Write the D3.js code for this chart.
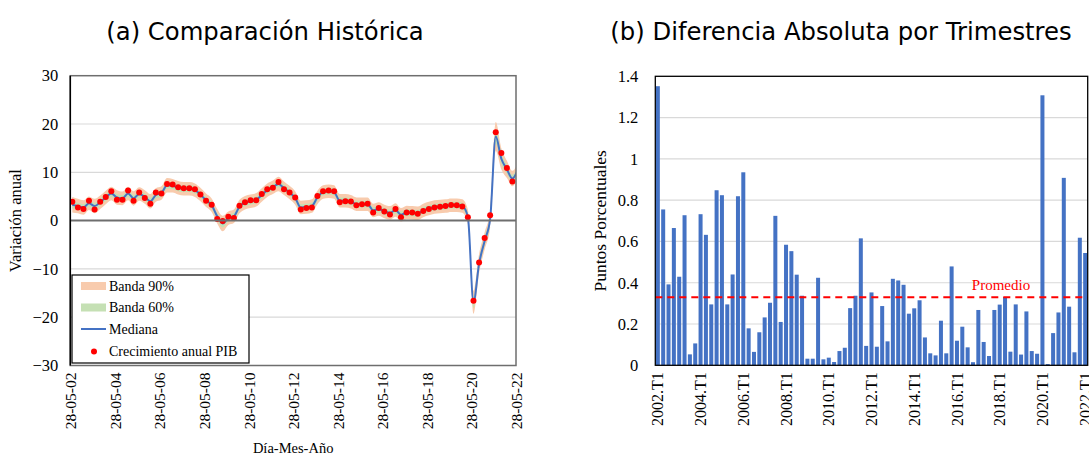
<!DOCTYPE html>
<html>
<head>
<meta charset="utf-8">
<script src="https://cdn.jsdelivr.net/npm/d3@7/dist/d3.min.js"></script>
<style>
  html, body { margin: 0; padding: 0; background: #fff; }
  svg { display: block; }
  .serif { font-family: "Liberation Serif", "Times New Roman", serif; }
  .sans { font-family: "DejaVu Sans", sans-serif; }
</style>
</head>
<body>
<svg id="chart" width="1089" height="458"></svg>
<script>
// ---- Panel (a): quarterly GDP growth vs. model median and bands ----
// Observed annual GDP growth, 2002.T2 – 2022.T1
const gdpGrowth = [
  3.9, 2.7, 2.4, 4.1, 2.3, 3.9, 4.9, 6.1, 4.3, 4.3,
  6.25, 4.1, 5.8, 4.7, 3.5, 5.8, 5.6, 7.6, 7.5, 6.9,
  6.7, 6.7, 6.5, 5.4, 4.1, 3.3, 0.35, -0.1, 0.8, 0.55,
  3.05, 3.8, 4.2, 4.2, 5.5, 6.5, 6.8, 8.0, 6.5, 5.8,
  4.8, 2.3, 2.6, 2.7, 5.1, 6.1, 6.25, 6.1, 3.8, 4.0,
  3.95, 3.2, 3.4, 3.5, 1.7, 2.6, 1.9, 1.25, 2.4, 0.7,
  1.7, 1.7, 1.4, 2.0, 2.4, 2.7, 2.85, 3.0, 3.25, 3.2,
  2.9, 0.7, -16.6, -8.7, -3.6, 1.1, 18.3, 14.0, 10.9, 8.1
];
// Model median, 2002.T2 – 2022.T2
const median = [
  3.3, 3.0, 2.7, 3.6, 3.0, 3.8, 4.8, 5.6, 4.8, 4.6,
  5.6, 4.6, 5.5, 4.9, 4.0, 5.3, 5.7, 7.3, 7.2, 6.8,
  6.6, 6.6, 6.3, 5.4, 4.2, 3.2, 0.9, -0.6, 0.5, 0.9,
  2.9, 3.7, 4.0, 4.3, 5.3, 6.3, 6.9, 7.6, 6.7, 5.8,
  4.7, 2.7, 2.8, 3.0, 4.8, 5.9, 6.1, 5.9, 4.1, 4.1,
  3.9, 3.4, 3.4, 3.4, 2.1, 2.4, 1.9, 1.6, 2.2, 1.2,
  1.7, 1.6, 1.5, 2.1, 2.5, 2.8, 2.9, 3.0, 3.2, 3.2,
  3.0, 0.8, -16.9, -8.9, -4.2, 0.3, 17.4, 12.8, 10.6, 8.7,
  10.6
];
// Half-widths of the 90% and 60% bands
const halfWidth90 = [
  1.6, 1.5, 1.5, 1.4, 1.5, 1.4, 1.4, 1.4, 1.5, 1.4,
  1.4, 1.5, 1.4, 1.4, 1.5, 1.4, 1.4, 1.5, 1.4, 1.4,
  1.4, 1.4, 1.4, 1.4, 1.4, 1.4, 1.5, 1.6, 1.4, 1.4,
  1.4, 1.4, 1.4, 1.4, 1.4, 1.4, 1.4, 1.5, 1.4, 1.4,
  1.4, 1.4, 1.4, 1.4, 1.4, 1.4, 1.4, 1.4, 1.4, 1.4,
  1.4, 1.4, 1.4, 1.4, 1.4, 1.4, 1.4, 1.4, 1.4, 1.4,
  1.4, 1.4, 1.4, 1.4, 1.4, 1.4, 1.4, 1.4, 1.4, 1.4,
  1.4, 1.5, 2.4, 2.0, 1.8, 1.8, 3.0, 2.2, 1.8, 1.6,
  1.6
];
const halfWidth60 = [
  0.8, 0.7, 0.7, 0.7, 0.7, 0.7, 0.7, 0.7, 0.7, 0.7,
  0.7, 0.7, 0.7, 0.7, 0.7, 0.7, 0.7, 0.7, 0.7, 0.7,
  0.7, 0.7, 0.7, 0.7, 0.7, 0.7, 0.7, 0.8, 0.7, 0.7,
  0.7, 0.7, 0.7, 0.7, 0.7, 0.7, 0.7, 0.7, 0.7, 0.7,
  0.7, 0.7, 0.7, 0.7, 0.7, 0.7, 0.7, 0.7, 0.7, 0.7,
  0.7, 0.7, 0.7, 0.7, 0.7, 0.7, 0.7, 0.7, 0.7, 0.7,
  0.7, 0.7, 0.7, 0.7, 0.7, 0.7, 0.7, 0.7, 0.7, 0.7,
  0.7, 0.7, 1.2, 1.0, 0.9, 0.9, 1.5, 1.1, 0.9, 0.8,
  0.8
];
const yTicksA = [-30, -20, -10, 0, 10, 20, 30];
const legendItems = ["Banda 90%", "Banda 60%", "Mediana", "Crecimiento anual PIB"];

// ---- Panel (b): absolute difference per quarter, 2002.T1 – 2022.T1 ----
const absDiff = [
  1.352, 0.755, 0.392, 0.665, 0.429, 0.727, 0.053, 0.106, 0.732, 0.632,
  0.295, 0.848, 0.824, 0.295, 0.440, 0.819, 0.935, 0.179, 0.065, 0.160,
  0.232, 0.303, 0.724, 0.210, 0.584, 0.553, 0.439, 0.337, 0.032, 0.032,
  0.424, 0.029, 0.037, 0.016, 0.069, 0.085, 0.277, 0.337, 0.615, 0.094,
  0.353, 0.090, 0.287, 0.116, 0.419, 0.411, 0.390, 0.250, 0.276, 0.315,
  0.135, 0.058, 0.048, 0.216, 0.058, 0.479, 0.119, 0.187, 0.087, 0.015,
  0.268, 0.113, 0.045, 0.268, 0.294, 0.331, 0.066, 0.295, 0.052, 0.261,
  0.069, 0.056, 1.308, 0.006, 0.156, 0.256, 0.908, 0.284, 0.063, 0.618,
  0.544
];
const yTicksB = [0, 0.2, 0.4, 0.6, 0.8, 1, 1.2, 1.4];

// Quarter labels and dates
const quarterLabels = absDiff.map((_, i) => `${2002 + Math.floor(i / 4)}.T${(i % 4) + 1}`);
const medianDates = median.map((_, i) => new Date(2002, 5 + 3 * i, 30));
const gdpDates = medianDates.slice(0, gdpGrowth.length);

const BLUE = "#4472C4", RED = "#FF0000", ORANGE = "#F8CBAD", GREEN = "#C5E0B4", GRID = "#D9D9D9";

const svg = d3.select("#chart");

// ================= Panel (a) =================
const A = { left: 70.3, right: 516, top: 75.7, bottom: 365.5 };
const xA = d3.scaleTime()
  .domain([new Date(2002, 4, 28), new Date(2022, 4, 28)])
  .range([A.left, A.right]);
const yA = d3.scaleLinear().domain([-30, 30]).range([A.bottom, A.top]);

svg.append("defs").append("clipPath").attr("id", "clipA")
  .append("rect").attr("x", A.left).attr("y", A.top)
  .attr("width", A.right - A.left).attr("height", A.bottom - A.top);

const gA = svg.append("g");

// horizontal grid
gA.selectAll("line.grid").data(yTicksA.filter(v => v !== 0 && Math.abs(v) !== 30))
  .join("line").attr("class", "grid")
  .attr("x1", A.left).attr("x2", A.right)
  .attr("y1", d => yA(d)).attr("y2", d => yA(d))
  .attr("stroke", GRID).attr("stroke-width", 1.2);

const plotA = gA.append("g").attr("clip-path", "url(#clipA)");

const band = (hw) => d3.area()
  .x((d, i) => xA(medianDates[i]))
  .y0((d, i) => yA(d - hw[i]))
  .y1((d, i) => yA(d + hw[i]))
  .curve(d3.curveMonotoneX);

plotA.append("path").datum(median).attr("d", band(halfWidth90)).attr("fill", ORANGE);
plotA.append("path").datum(median).attr("d", band(halfWidth60)).attr("fill", GREEN);

// zero line
gA.append("line")
  .attr("x1", A.left).attr("x2", A.right)
  .attr("y1", yA(0)).attr("y2", yA(0))
  .attr("stroke", "#6E6E6E").attr("stroke-width", 2);

plotA.append("path").datum(median)
  .attr("d", d3.line().x((d, i) => xA(medianDates[i])).y(d => yA(d)).curve(d3.curveMonotoneX))
  .attr("fill", "none").attr("stroke", BLUE).attr("stroke-width", 2);

plotA.selectAll("circle.gdp").data(gdpGrowth).join("circle").attr("class", "gdp")
  .attr("cx", (d, i) => xA(gdpDates[i])).attr("cy", d => yA(d))
  .attr("r", 3).attr("fill", RED);

// frame
gA.append("rect")
  .attr("x", A.left).attr("y", A.top)
  .attr("width", A.right - A.left).attr("height", A.bottom - A.top)
  .attr("fill", "none").attr("stroke", "#6E6E6E").attr("stroke-width", 1.5);
gA.append("line").attr("x1", A.left).attr("x2", A.left)
  .attr("y1", A.top).attr("y2", A.bottom).attr("stroke", "#000").attr("stroke-width", 1.5);

// y axis
const yAxisA = d3.axisLeft(yA).tickValues(yTicksA).tickSize(0).tickPadding(12).tickFormat(d3.format("d"));
gA.append("g").attr("transform", `translate(${A.left},0)`).call(yAxisA)
  .call(g => g.select(".domain").remove())
  .call(g => g.selectAll("text").attr("class", "serif").attr("font-size", 16.5).attr("fill", "#000"));

// x axis
const xTickDates = d3.range(0, 11).map(k => new Date(2002 + 2 * k, 4, 28));
const xAxisA = d3.axisBottom(xA).tickValues(xTickDates).tickSize(0).tickFormat(d3.timeFormat("%d-%m-%y"));
gA.append("g").attr("transform", `translate(0,${A.bottom})`).call(xAxisA)
  .call(g => g.select(".domain").remove())
  .call(g => g.selectAll("text").attr("class", "serif").attr("font-size", 15.5).attr("fill", "#000")
    .attr("transform", "rotate(-90)").attr("text-anchor", "end")
    .attr("x", -7).attr("y", 0).attr("dy", "0.35em"));

gA.append("text").attr("class", "serif").attr("font-size", 16.5)
  .attr("transform", `translate(21,${(A.top + A.bottom) / 2}) rotate(-90)`)
  .attr("text-anchor", "middle").text("Variación anual");
gA.append("text").attr("class", "serif").attr("font-size", 14.5)
  .attr("x", (A.left + A.right) / 2).attr("y", 453)
  .attr("text-anchor", "middle").text("Día-Mes-Año");

gA.append("text").attr("class", "sans").attr("font-size", 24.3)
  .attr("x", 265).attr("y", 40).attr("text-anchor", "middle").text("(a) Comparación Histórica");

// legend
const leg = gA.append("g").attr("transform", "translate(72,275)");
leg.append("rect").attr("width", 177).attr("height", 88)
  .attr("fill", "#fff").attr("stroke", "#000").attr("stroke-width", 1.2);
const rows = [11, 32.5, 54, 76.5];
leg.append("rect").attr("x", 9).attr("y", rows[0] - 4).attr("width", 25).attr("height", 8).attr("fill", ORANGE);
leg.append("rect").attr("x", 9).attr("y", rows[1] - 4).attr("width", 25).attr("height", 8).attr("fill", GREEN);
leg.append("line").attr("x1", 9).attr("x2", 34).attr("y1", rows[2]).attr("y2", rows[2])
  .attr("stroke", BLUE).attr("stroke-width", 2);
leg.append("circle").attr("cx", 22).attr("cy", rows[3]).attr("r", 3).attr("fill", RED);
leg.selectAll("text").data(legendItems).join("text").attr("class", "serif")
  .attr("font-size", 14).attr("x", 37).attr("y", (d, i) => rows[i]).attr("dy", "0.35em").text(d => d);

// ================= Panel (b) =================
const B = { left: 655.3, right: 1087.7, top: 76.3, bottom: 365.3 };
const xB = d3.scaleBand().domain(quarterLabels).range([B.left, B.right]).paddingInner(0.25).paddingOuter(0.1);
const yB = d3.scaleLinear().domain([0, 1.4]).range([B.bottom, B.top]);
const gB = svg.append("g");

gB.selectAll("line.grid").data(yTicksB.filter(v => v > 0 && v < 1.4))
  .join("line").attr("class", "grid")
  .attr("x1", B.left).attr("x2", B.right)
  .attr("y1", d => yB(d)).attr("y2", d => yB(d))
  .attr("stroke", GRID).attr("stroke-width", 1.2);

gB.selectAll("rect.bar").data(absDiff).join("rect").attr("class", "bar")
  .attr("x", (d, i) => xB(quarterLabels[i])).attr("width", xB.bandwidth())
  .attr("y", d => yB(d)).attr("height", d => yB(0) - yB(d))
  .attr("fill", BLUE);

const avg = d3.mean(absDiff);
gB.append("line").attr("x1", B.left).attr("x2", B.right)
  .attr("y1", yB(avg)).attr("y2", yB(avg))
  .attr("stroke", RED).attr("stroke-width", 2).attr("stroke-dasharray", "7,5");
gB.append("text").attr("class", "serif").attr("font-size", 15).attr("fill", RED)
  .attr("x", 1001).attr("y", yB(avg) - 7).attr("text-anchor", "middle").text("Promedio");

gB.append("rect").attr("x", B.left).attr("y", B.top)
  .attr("width", B.right - B.left).attr("height", B.bottom - B.top)
  .attr("fill", "none").attr("stroke", "#000").attr("stroke-width", 1.3);

const yAxisB = d3.axisLeft(yB).tickValues(yTicksB).tickSize(0).tickPadding(17).tickFormat(d => String(d));
gB.append("g").attr("transform", `translate(${B.left},0)`).call(yAxisB)
  .call(g => g.select(".domain").remove())
  .call(g => g.selectAll("text").attr("class", "serif").attr("font-size", 16.5).attr("fill", "#000"));

const xAxisB = d3.axisBottom(xB).tickValues(quarterLabels.filter((d, i) => i % 8 === 0)).tickSize(0);
gB.append("g").attr("transform", `translate(0,${B.bottom})`).call(xAxisB)
  .call(g => g.select(".domain").remove())
  .call(g => g.selectAll("text").attr("class", "serif").attr("font-size", 16).attr("fill", "#000")
    .attr("transform", "rotate(-90)").attr("text-anchor", "end")
    .attr("x", -7).attr("y", 0).attr("dy", "0.35em"));

gB.append("text").attr("class", "serif").attr("font-size", 17.5)
  .attr("transform", `translate(606,${(B.top + B.bottom) / 2}) rotate(-90)`)
  .attr("text-anchor", "middle").text("Puntos Porcentuales");

gB.append("text").attr("class", "sans").attr("font-size", 24.3)
  .attr("x", 841).attr("y", 40).attr("text-anchor", "middle").text("(b) Diferencia Absoluta por Trimestres");
</script>
</body>
</html>
